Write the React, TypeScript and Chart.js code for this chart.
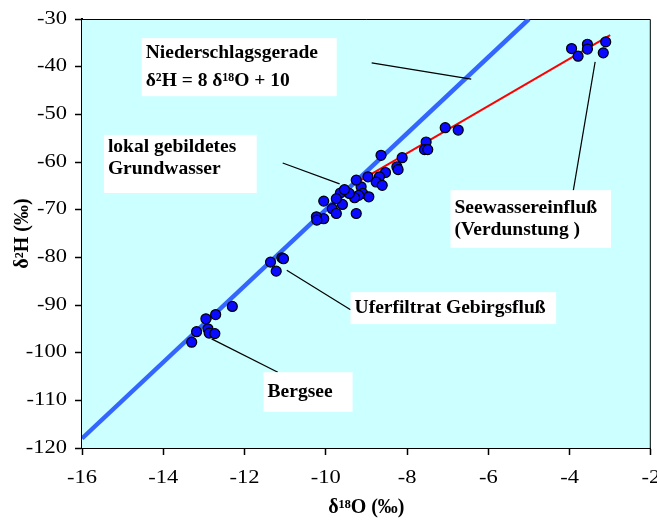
import { useEffect, useRef } from 'react';
import { Chart, registerables } from 'chart.js';

Chart.register(...registerables);

// δ18O (‰) of the samples
const o18 = [
  -12.30, -12.71, -12.95, -13.18, -12.90, -12.87, -12.73, -13.30,
  -11.36, -11.08, -11.04, -11.22,
  -8.64, -8.12, -8.25, -8.22, -8.53, -8.68, -8.76, -8.61, -8.96, -9.13, -9.25, -9.09,
  -8.94, -9.19, -9.29, -9.42, -9.64, -9.59, -9.74, -9.84, -9.74, -10.05, -9.25, -10.05,
  -10.23, -10.22, -9.54,
  -7.06, -6.74, -7.53, -7.57, -7.49,
  -3.95, -3.79, -3.56, -3.56, -3.11, -3.17,
];
// δ2H (‰) of the samples
const h2 = [
  -90.3, -92.0, -92.9, -95.6, -95.0, -95.9, -96.0, -97.8,
  -81.0, -80.1, -80.3, -82.9,
  -58.6, -59.1, -61.0, -61.6, -62.2, -63.1, -64.2, -64.9, -63.1, -65.2, -63.8, -66.6,
  -67.3, -67.0, -67.5, -66.6, -66.5, -68.9, -67.7, -69.8, -70.8, -68.2, -70.8, -71.9,
  -71.5, -72.2, -65.8,
  -52.8, -53.3, -55.8, -57.4, -57.4,
  -36.2, -37.8, -35.3, -36.3, -34.8, -37.1,
];

// Niederschlagsgerade δ2H = 8 δ18O + 10 (end points)
const gmwlX = [-16, -5];
const gmwlY = [-118, -30];
// Verdunstungsgerade (red line end points)
const evapX = [-9.2, -3.0];
const evapY = [-64.1, -33.4];

const xTicks = [-16, -14, -12, -10, -8, -6, -4, -2];
const yTicks = [-120, -110, -100, -90, -80, -70, -60, -50, -40, -30];

// Annotation boxes (data coordinates)
const labelBoxes = [
  { box: [-14.53, -34.0, -9.73, -46.2], lines: ['Niederschlagsgerade', 'δ²H = 8 δ¹⁸O + 10'], lineY: [-37.1, -43.0] },
  { box: [-15.46, -54.3, -11.70, -66.5], lines: ['lokal gebildetes', 'Grundwasser'], lineY: [-56.9, -61.5] },
  { box: [-6.93, -65.9, -2.98, -78.0], lines: ['Seewassereinfluß', '(Verdunstung )'], lineY: [-69.7, -74.3] },
  { box: [-9.39, -87.3, -4.33, -94.0], lines: ['Uferfiltrat Gebirgsfluß'], lineY: [-90.6] },
  { box: [-11.53, -104.1, -9.34, -112.4], lines: ['Bergsee'], lineY: [-108.3] },
];
const leaderLines = [
  [-8.87, -39.2, -6.42, -42.6],
  [-11.06, -60.2, -9.66, -64.6],
  [-3.91, -66.1, -3.37, -39.0],
  [-10.96, -82.7, -9.39, -91.0],
  [-12.81, -97.1, -11.18, -104.1],
];

const SERIF = '"Liberation Serif", "Times New Roman", serif';
const TICK_STRETCH = 1.25;

const decorPlugin = {
  id: 'decor',
  beforeDatasetsDraw(chart: any) {
    const { ctx, chartArea: a } = chart;
    ctx.save();
    ctx.fillStyle = '#ccffff';
    ctx.fillRect(a.left, a.top, a.right - a.left, a.bottom - a.top);
    ctx.strokeStyle = '#000';
    ctx.lineWidth = 1;
    ctx.beginPath();
    ctx.moveTo(a.left, a.top + 0.5);
    ctx.lineTo(a.right - 0.5, a.top + 0.5);
    ctx.lineTo(a.right - 0.5, a.bottom);
    ctx.stroke();
    ctx.restore();
  },
  afterDatasetsDraw(chart: any) {
    const { ctx } = chart;
    const xs = chart.scales.x;
    const ys = chart.scales.y;
    ctx.save();
    ctx.strokeStyle = '#000';
    ctx.lineWidth = 1.2;
    for (const l of leaderLines) {
      ctx.beginPath();
      ctx.moveTo(xs.getPixelForValue(l[0]), ys.getPixelForValue(l[1]));
      ctx.lineTo(xs.getPixelForValue(l[2]), ys.getPixelForValue(l[3]));
      ctx.stroke();
    }
    ctx.font = `bold 19.5px ${SERIF}`;
    ctx.textAlign = 'left';
    ctx.textBaseline = 'middle';
    for (const b of labelBoxes) {
      const x0 = xs.getPixelForValue(b.box[0]);
      const y0 = ys.getPixelForValue(b.box[1]);
      const x1 = xs.getPixelForValue(b.box[2]);
      const y1 = ys.getPixelForValue(b.box[3]);
      ctx.fillStyle = '#fff';
      ctx.fillRect(x0, y0, x1 - x0, y1 - y0);
      ctx.fillStyle = '#000';
      b.lines.forEach((t, i) => {
        ctx.fillText(t, x0 + 4, ys.getPixelForValue(b.lineY[i]));
      });
    }
    ctx.restore();
  },
  afterDraw(chart: any) {
    // tick labels, slightly widened like the original
    const { ctx, chartArea: a } = chart;
    const xs = chart.scales.x;
    const ys = chart.scales.y;
    ctx.save();
    ctx.fillStyle = '#000';
    ctx.font = `18px ${SERIF}`;
    ctx.textBaseline = 'middle';
    ctx.textAlign = 'center';
    for (const v of xTicks) {
      ctx.save();
      ctx.translate(xs.getPixelForValue(v), a.bottom + 30);
      ctx.scale(TICK_STRETCH, 1);
      ctx.fillText(String(v), 0, 0);
      ctx.restore();
    }
    ctx.textAlign = 'right';
    for (const v of yTicks) {
      ctx.save();
      ctx.translate(a.left - 15, ys.getPixelForValue(v));
      ctx.scale(TICK_STRETCH, 1);
      ctx.fillText(String(v), 0, 0);
      ctx.restore();
    }
    ctx.restore();
  },
};

export default function App() {
  const ref = useRef<HTMLCanvasElement>(null);
  useEffect(() => {
    const points = o18.map((x, i) => ({ x, y: h2[i] }));
    const chart = new Chart(ref.current as HTMLCanvasElement, {
      type: 'scatter',
      data: {
        datasets: [
          {
            label: 'Proben',
            data: points,
            pointRadius: 5,
            pointBackgroundColor: '#0a0aff',
            pointBorderColor: '#000',
            pointBorderWidth: 1.2,
            showLine: false,
            order: 0,
          },
          {
            label: 'Niederschlagsgerade',
            data: gmwlX.map((x, i) => ({ x, y: gmwlY[i] })),
            showLine: true,
            borderColor: '#3366ff',
            borderWidth: 4.5,
            pointRadius: 0,
            order: 1,
          },
          {
            label: 'Verdunstung',
            data: evapX.map((x, i) => ({ x, y: evapY[i] })),
            showLine: true,
            borderColor: '#ff0000',
            borderWidth: 2,
            pointRadius: 0,
            order: 2,
          },
        ],
      },
      options: {
        responsive: false,
        animation: false,
        devicePixelRatio: 1,
        layout: { padding: { top: 19, right: 6, left: 0, bottom: 0 } },
        plugins: { legend: { display: false }, tooltip: { enabled: false } },
        scales: {
          x: {
            type: 'linear',
            min: -16,
            max: -2,
            afterBuildTicks: (s: any) => { s.ticks = xTicks.map((v) => ({ value: v })); },
            afterFit: (s: any) => { s.height = 75; s.paddingLeft = 0; s.paddingRight = 0; },
            ticks: { display: false },
            grid: { drawOnChartArea: false, drawTicks: true, tickLength: 7, color: '#000', tickWidth: 1.5 },
            border: { display: true, color: '#000', width: 2 },
            title: {
              display: true,
              text: 'δ¹⁸O (‰)',
              color: '#000',
              font: { family: SERIF, size: 20, weight: 'bold' },
              padding: { top: 0, bottom: 3 },
            },
          },
          y: {
            type: 'linear',
            min: -120,
            max: -30,
            afterBuildTicks: (s: any) => { s.ticks = yTicks.map((v) => ({ value: v })); },
            afterFit: (s: any) => { s.width = 82; s.paddingTop = 0; s.paddingBottom = 0; },
            ticks: { display: false },
            grid: { drawOnChartArea: false, drawTicks: true, tickLength: 7, color: '#000', tickWidth: 1.5 },
            border: { display: true, color: '#000', width: 2 },
            title: {
              display: true,
              text: 'δ²H (‰)',
              color: '#000',
              font: { family: SERIF, size: 20, weight: 'bold' },
              padding: { top: 11, bottom: 0 },
            },
          },
        },
      },
      plugins: [decorPlugin],
    } as any);
    return () => chart.destroy();
  }, []);
  return (
    <div style={{ position: 'absolute', left: 0, top: 0 }}>
      <canvas ref={ref} width={657} height={523} />
    </div>
  );
}
